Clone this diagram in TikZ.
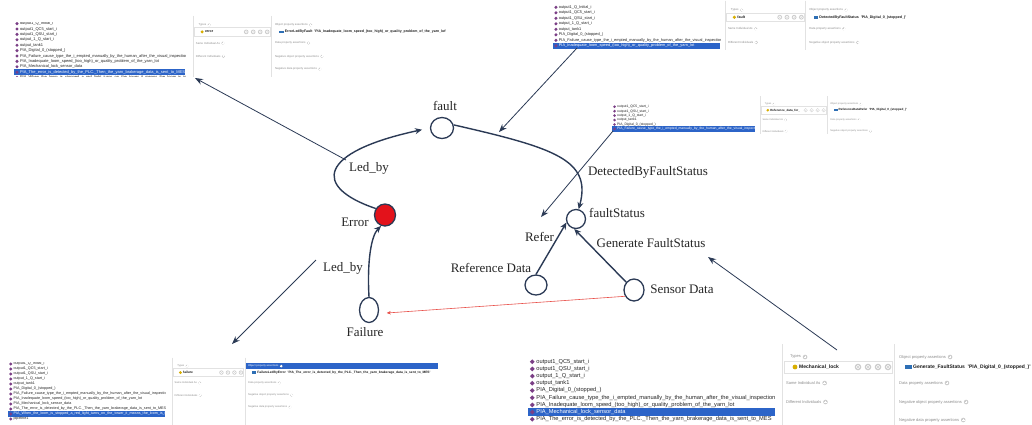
\documentclass[tikz,border=0pt]{standalone}
\usepackage{fontspec}
\setmainfont{Liberation Serif}
\setsansfont{Liberation Sans}
\usetikzlibrary{shapes.geometric,arrows.meta}

\definecolor{navy}{HTML}{2B3A55}
\definecolor{hlblue}{HTML}{2C64C8}
\definecolor{itempurple}{HTML}{7B3F86}
\definecolor{paneline}{HTML}{E2E2E2}
\definecolor{panetext}{HTML}{8C8C8C}
\definecolor{typedot}{HTML}{D8AE00}
\definecolor{propblue}{HTML}{2E6FB5}
\definecolor{errred}{HTML}{E3121B}
\definecolor{linkred}{HTML}{E8504A}

\tikzset{
  vertex/.style={ellipse, draw=navy, line width=1.3pt, fill=white, inner sep=0pt},
  glabel/.style={font=\fontsize{13}{15}\selectfont, text=black!85, anchor=base, inner sep=0pt},
  relation/.style={draw=navy, line width=1.4pt, -{Stealth[length=7pt,width=6pt]}},
  pointer/.style={draw=navy, line width=0.8pt, -{Stealth[length=8pt,width=6pt]}},
  redlink/.style={draw=linkred, line width=0.6pt, -{Stealth[length=4pt,width=3.5pt]}},
  listtext/.style={anchor=west, inner sep=0pt, font=\sffamily\fontsize{\lfont}{\lfont}\selectfont},
  panelabel/.style={anchor=west, inner sep=0pt, text=panetext, font=\sffamily\fontsize{4}{4}\selectfont},
  typename/.style={anchor=west, inner sep=0pt, text=black!90, font=\sffamily\bfseries\fontsize{5}{5}\selectfont},
  plusicon/.pic={\fill[gray!40] (0,0) circle (2.3);
    \draw[white, line width=0.45pt] (-1.3,0) -- (1.3,0) (0,-1.3) -- (0,1.3);},
  roundbtn/.pic={\fill[gray!40] (0,0) circle (3.3);
    \draw[white, line width=0.5pt] (0,0) circle (1.7);}
}

% individual names shown in the lists
\newcommand\rQInit{output1\_Q\_Initial\_i}
\newcommand\rQCV{output1\_QC5\_start\_i}
\newcommand\rQSU{output1\_QSU\_start\_i}
\newcommand\rQone{output\_1\_Q\_start\_i}
\newcommand\rTank{output\_tank1}
\newcommand\rDigital{PIA\_Digital\_0\_(stopped\_)}
\newcommand\rFailure{PIA\_Failure\_cause\_type\_the\_i\_empted\_manually\_by\_the\_human\_after\_the\_visual\_inspection}
\newcommand\rInadequate{PIA\_Inadequate\_loom\_speed\_(too\_high)\_or\_quality\_problem\_of\_the\_yarn\_lot}
\newcommand\rMechanical{PIA\_Mechanical\_lock\_sensor\_data}
\newcommand\rError{PIA\_The\_error\_is\_detected\_by\_the\_PLC.\_Then\_the\_yarn\_brakerage\_data\_is\_sent\_to\_MES}
\newcommand\rWhen{PIA\_When\_the\_loom\_is\_stopped\_a\_red\_light\_turns\_on\_the\_tower\_it\_means\_the\_loom\_is\_in}
\newcommand\rPipeline{pipeline1}

% list of individuals: #1 name prefix, #2/#3 left/right edge, #4/#5 top/bottom of
% the visible strip, #6 y of the first row, #7 rows; \lfont, \lstep, \lhl set before
\newcommand\itemlist[7]{%
  \begin{scope}
    \clip (#2,#4) rectangle (#3,#5);
    \pgfmathsetmacro\ds{0.42*\lfont}
    \pgfmathsetmacro\dx{#2+0.75*\lfont}
    \pgfmathsetmacro\tx{#2+1.45*\lfont}
    \foreach \t [count=\i from 0] in {#7} {
      \pgfmathsetmacro\yy{#6+\i*\lstep}
      \ifnum\i=\lhl\relax
        \fill[hlblue] (#2,\yy-0.6*\lstep) rectangle (#3,\yy+0.6*\lstep);
        \def\rowcol{white}
      \else
        \def\rowcol{black!85}
      \fi
      \fill[itempurple] (\dx,\yy) +(-\ds,0) -- +(0,-\ds) -- +(\ds,0) -- +(0,\ds) -- cycle;
      \node[listtext, text=\rowcol] (#1-\i) at (\tx,\yy) {\t};
    }
  \end{scope}}

% description pane: #1 name prefix, #2 origin, #3 scale, #4 class, #5 property
% assertion, #6 visible depth, #7 right end of the highlighted header (0: plain)
\newcommand\infopanel[7]{%
  \begin{scope}[shift={#2}, scale=#3, transform shape]
    \clip (-1,-6) rectangle (450,#6);
    \draw[paneline, line width=0.6pt] (0,-6) -- (0,#6) (112,-6) -- (112,#6);
    \draw[paneline, line width=0.5pt, fill=white] (2,11) rectangle (110,23);
    \node[panelabel] (#1-types) at (8,7) {Types};
    \path (#1-types.east) ++(4,0) pic {plusicon};
    \fill[typedot] (13,17) circle (2.4);
    \node[typename] (#1-class) at (17,17) {#4};
    \foreach \cx in {76,86,96,106} \path (\cx,17) pic {roundbtn};
    \node[panelabel] (#1-same) at (4,33) {Same Individual As};
    \path (#1-same.east) ++(4,0) pic {plusicon};
    \node[panelabel] (#1-diff) at (4,52) {Different Individuals};
    \path (#1-diff.east) ++(4,0) pic {plusicon};
    \ifdim #7pt>0pt
      \fill[hlblue] (114,2.5) rectangle (#7,11.5);
      \node[panelabel, text=white] (#1-obj) at (117,7) {Object property assertions};
    \else
      \node[panelabel] (#1-obj) at (117,7) {Object property assertions};
    \fi
    \path (#1-obj.east) ++(4,0) pic {plusicon};
    \fill[propblue] (123,15.2) rectangle (129.5,18.8);
    \node[typename] (#1-fact) at (131,17) {#5};
    \node[panelabel] (#1-data) at (117,33) {Data property assertions};
    \path (#1-data.east) ++(4,0) pic {plusicon};
    \node[panelabel] (#1-nobj) at (117,52) {Negative object property assertions};
    \path (#1-nobj.east) ++(4,0) pic {plusicon};
    \node[panelabel] (#1-ndata) at (117,70) {Negative data property assertions};
    \path (#1-ndata.east) ++(4,0) pic {plusicon};
  \end{scope}}

\begin{document}
\begin{tikzpicture}[x=1pt, y=-1pt]
  \path[use as bounding box, fill=white] (0,0) rectangle (1032,424);

  % ---- ontology editor excerpts ----
  \def\lfont{4}\def\lstep{5.4}\def\lhl{9}
  \itemlist{tl}{14}{185}{22.5}{76.5}{23.6}{\rQInit,\rQCV,\rQSU,\rQone,\rTank,\rDigital,\rFailure,\rInadequate,\rMechanical,\rError,\rWhen}
  \infopanel{tlp}{(193,20)}{0.7}{error}{ErrorLedByFault\ \ 'PIA\_Inadequate\_loom\_speed\_(too\_high)\_or\_quality\_problem\_of\_the\_yarn\_lot'}{81}{0}

  \def\lfont{3.9}\def\lstep{5.5}\def\lhl{7}
  \itemlist{tr}{553}{720}{4}{49.5}{7.3}{\rQInit,\rQCV,\rQSU,\rQone,\rTank,\rDigital,\rFailure,\rInadequate}
  \infopanel{trp}{(725,5)}{0.72}{fault}{DetectedByFaultStatus\ \ 'PIA\_Digital\_0\_(stopped\_)'}{62}{0}

  \def\lfont{3.4}\def\lstep{4.45}\def\lhl{5}
  \itemlist{mr}{612}{755}{104}{132}{106.7}{\rQCV,\rQSU,\rQone,\rTank,\rDigital,\rFailure}
  \infopanel{mrp}{(760,100)}{0.6}{Reference\_data\_for\_}{ReferenceDataRefer\ \ 'PIA\_Digital\_0\_(stopped\_)'}{57}{0}

  \def\lfont{3.7}\def\lstep{5}\def\lhl{10}
  \itemlist{bl}{8}{165}{362}{424}{364}{\rQInit,\rQCV,\rQSU,\rQone,\rTank,\rDigital,\rFailure,\rInadequate,\rMechanical,\rError,\rWhen,\rPipeline}
  \infopanel{blp}{(172,361.5)}{0.65}{failure}{FailureLedByError\ \ 'PIA\_The\_error\_is\_detected\_by\_the\_PLC.\_Then\_the\_yarn\_brakerage\_data\_is\_sent\_to\_MES'}{100}{409}

  \def\lfont{5.7}\def\lstep{7.2}\def\lhl{7}
  \itemlist{bc}{528}{775}{357}{424}{361.7}{\rQCV,\rQSU,\rQone,\rTank,\rDigital,\rFailure,\rInadequate,\rMechanical,\rError}
  \infopanel{brp}{(782,350)}{1}{Mechanical\_lock}{Generate\_FaultStatus\ \ 'PIA\_Digital\_0\_(stopped\_)'}{80}{0}

  % ---- concept graph ----
  \node[vertex, minimum width=23, minimum height=21] (fault) at (442,128) {};
  \node[vertex, fill=errred, minimum width=21, minimum height=22] (error) at (385,215) {};
  \node[vertex, minimum width=19, minimum height=25] (failure) at (369,310) {};
  \node[vertex, minimum width=19, minimum height=19] (status) at (576,219) {};
  \node[vertex, minimum width=22, minimum height=20] (refdata) at (536,285) {};
  \node[vertex, minimum width=20, minimum height=22] (sensor) at (634,290) {};

  \node[glabel] (l-fault) at (445,110.3) {fault};
  \node[glabel] (l-error) at (355,226.3) {Error};
  \node[glabel] (l-failure) at (365,336.3) {Failure};
  \node[glabel] (l-status) at (617,217.3) {faultStatus};
  \node[glabel] (l-ref) at (491,272.3) {Reference Data};
  \node[glabel] (l-sensor) at (682,293.3) {Sensor Data};
  \node[glabel] (l-refer) at (539.5,241.3) {Refer};
  \node[glabel] (l-generate) at (651,247.3) {Generate FaultStatus};
  \node[glabel] (l-detected) at (648,175.3) {DetectedByFaultStatus};
  \node[glabel] (l-ledA) at (369,171.3) {Led\_by};
  \node[glabel] (l-ledB) at (343,271.3) {Led\_by};

  \draw[relation, shorten >=8pt] (error.145) .. controls (312,187) and (318,152) .. (fault.west);
  \draw[relation] (failure.north) .. controls (367,262) and (371,236) .. (error.250);
  \draw[relation] (fault.15) .. controls (555,148) and (592,160) .. (status.75);
  \draw[relation] (refdata.north) -- (status.200);
  \draw[relation] (sensor.135) -- (status.260);
  \draw[redlink, shorten >=8pt] (sensor.215) -- (failure.340);

  % ---- callouts tying the excerpts to the graph ----
  \coordinate (cA) at (346,160);  \coordinate (cAtip) at (195,78);
  \coordinate (cB) at (577,48);   \coordinate (cBtip) at (499,132);
  \coordinate (cC) at (613,131);  \coordinate (cCtip) at (541,217);
  \coordinate (cD) at (316,260);  \coordinate (cDtip) at (232,344);
  \coordinate (cE) at (837,350);  \coordinate (cEtip) at (708,257);
  \draw[pointer] (cA) -- (cAtip);
  \draw[pointer] (cB) -- (cBtip);
  \draw[pointer] (cC) -- (cCtip);
  \draw[pointer] (cD) -- (cDtip);
  \draw[pointer] (cE) -- (cEtip);
\end{tikzpicture}
\end{document}
